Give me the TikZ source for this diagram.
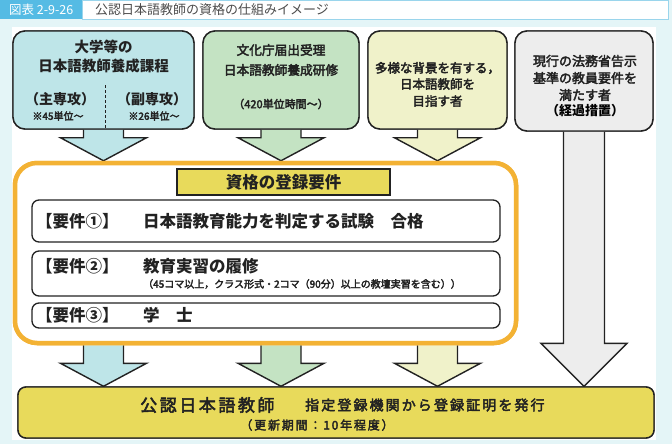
\documentclass[tikz,border=0pt]{standalone}
\usepackage{fontspec}
\setmainfont{Noto Sans CJK JP}
\newfontfamily\medfont[FakeBold=3]{Noto Sans CJK JP}
\newfontfamily\medwide[FakeBold=3,LetterSpace=15]{Noto Sans CJK JP}
\usetikzlibrary{calc}
\definecolor{bgcyan}{HTML}{E4F5F7}
\definecolor{hdrblue}{HTML}{55BBE4}
\definecolor{hdrline}{HTML}{9AD5EC}
\definecolor{cA}{HTML}{BEE5E8}
\definecolor{cB}{HTML}{C4E3C3}
\definecolor{cC}{HTML}{F0F2CA}
\definecolor{cD}{HTML}{EDEDED}
\definecolor{orng}{HTML}{F3B234}
\definecolor{ylw}{HTML}{E8DA5B}
\definecolor{txt}{HTML}{222222}
\newcommand\blockarrowdown[6]{%
  \filldraw[fill=#1, draw=txt, line width=1.4pt, line join=miter]
    let \p1=(#2), \p2=(#3) in
    (\x1-#4pt,\y1) -- (\x1-#4pt,\y2+#6pt) -- (\x1-#5pt,\y2+#6pt) -- (\x1,\y2)
    -- (\x1+#5pt,\y2+#6pt) -- (\x1+#4pt,\y2+#6pt) -- (\x1+#4pt,\y1);}
\tikzset{
  srcbox/.style={draw=txt, line width=1.4pt, rounded corners=12pt, inner sep=0pt},
  reqbox/.style={draw=txt, line width=1.3pt, rounded corners=7pt, fill=white,
    minimum width=468pt, inner sep=0pt},
  lbl/.style={inner sep=0pt, text=txt},
}
\begin{document}
\begin{tikzpicture}[x=1pt,y=-1pt]
\path[use as bounding box] (0,0) rectangle (672,444);
% background
\fill[bgcyan] (0,0) rectangle (672,444);
\fill[white] (12,27) rectangle (656,440);
% header
\node[fill=hdrblue, minimum width=82pt, minimum height=19pt, anchor=north west,
  inner sep=0pt, text=white, font=\fontsize{12.5}{14}\selectfont] (hd) at (0,0) {図表 2-9-26};
\node[draw=hdrline, fill=white, line width=1pt, minimum width=586pt, minimum height=19pt,
  anchor=north west, inner sep=0pt] (hdt) at (82,0) {};
\node[lbl, anchor=west, text=black!70, font=\fontsize{13}{15}\selectfont] (hdtext) at (95,9.5)
  {公認日本語教師の資格の仕組みイメージ};

% source boxes (nodes first so arrows can reference them)
\node[srcbox, fill=cA, minimum width=181pt, minimum height=98pt] (b1) at (103.5,80) {};
\node[srcbox, fill=cB, minimum width=156pt, minimum height=98pt] (b2) at (281,80) {};
\node[srcbox, fill=cC, minimum width=139pt, minimum height=98pt] (b3) at (437.5,80) {};
\node[srcbox, fill=cD, minimum width=138pt, minimum height=100pt] (b4) at (584,81) {};
\node[draw=orng, line width=4.5pt, fill=white, rounded corners=22pt, minimum width=501pt,
  minimum height=180pt, inner sep=0pt] (cont) at (265.5,253) {};
\node[draw=txt, fill=ylw, line width=1.4pt, rounded corners=8pt, minimum width=636pt,
  minimum height=51pt, inner sep=0pt] (fin) at (336,412.5) {};

% arrows
\blockarrowdown{cA}{b1.south}{b1.south |- cont.north}{20}{43}{23}
\blockarrowdown{cB}{b2.south}{b2.south |- cont.north}{20}{43}{23}
\blockarrowdown{cC}{b3.south}{b3.south |- cont.north}{20}{43}{23}
\blockarrowdown{cA}{b1.south |- cont.south}{b1.south |- fin.north}{20}{43}{23}
\blockarrowdown{cB}{b2.south |- cont.south}{b2.south |- fin.north}{20}{43}{23}
\blockarrowdown{cC}{b3.south |- cont.south}{b3.south |- fin.north}{20}{43}{23}
\blockarrowdown{cD}{b4.south}{b4.south |- fin.north}{20.5}{43}{43}

% redraw boxes on top of arrow ends
\node[srcbox, fill=cA, minimum width=181pt, minimum height=98pt] at (b1) {};
\node[srcbox, fill=cB, minimum width=156pt, minimum height=98pt] at (b2) {};
\node[srcbox, fill=cC, minimum width=139pt, minimum height=98pt] at (b3) {};
\node[srcbox, fill=cD, minimum width=138pt, minimum height=100pt] at (b4) {};
\node[draw=orng, line width=4.5pt, fill=white, rounded corners=22pt, minimum width=501pt,
  minimum height=180pt, inner sep=0pt] at (cont) {};
\node[draw=txt, fill=ylw, line width=1.4pt, rounded corners=8pt, minimum width=636pt,
  minimum height=51pt, inner sep=0pt] at (fin) {};

% box 1 texts
\node[lbl, font=\fontsize{14.5}{16}\bfseries] (t1a) at (103.5,47) {大学等の};
\node[lbl, font=\fontsize{14.5}{16}\bfseries] (t1b) at (103.5,66) {日本語教師養成課程};
\draw[txt, line width=1pt, dash pattern=on 3pt off 2pt] (105,85) -- (105,128);
\node[lbl, font=\fontsize{14}{16}\bfseries] (t1c) at (60,99) {（主専攻）};
\node[lbl, font=\fontsize{14}{16}\bfseries] (t1d) at (152,99) {（副専攻）};
\node[lbl, font=\fontsize{10}{12}\medfont] (t1e) at (58,116) {※45単位～};
\node[lbl, font=\fontsize{10}{12}\medfont] (t1f) at (154,116) {※26単位～};
% box 2 texts
\node[lbl, font=\fontsize{12.7}{15}\medfont] (t2a) at (281,50) {文化庁届出受理};
\node[lbl, font=\fontsize{12.7}{15}\medfont] (t2b) at (281,70) {日本語教師養成研修};
\node[lbl, font=\fontsize{11}{13}\medfont] (t2c) at (281,104) {（420単位時間～）};
% box 3 texts
\node[lbl, font=\fontsize{12.5}{15}\medfont] (t3a) at (437.5,68) {多様な背景を有する，};
\node[lbl, font=\fontsize{12.5}{15}\medfont] (t3b) at (437.5,84) {日本語教師を};
\node[lbl, font=\fontsize{12.5}{15}\medfont] (t3c) at (437.5,101) {目指す者};
% box 4 texts
\node[lbl, font=\fontsize{13}{15}\medfont] (t4a) at (585,61) {現行の法務省告示};
\node[lbl, font=\fontsize{13}{15}\medfont] (t4b) at (585,78) {基準の教員要件を};
\node[lbl, font=\fontsize{13}{15}\medfont] (t4c) at (585,95) {満たす者};
\node[lbl, font=\fontsize{13}{15}\bfseries, text=black] (t4d) at (585,111) {（経過措置）};

% requirements
\node[draw=txt, fill=ylw, line width=1.4pt, minimum width=213pt, minimum height=26pt,
  inner sep=0pt, text=txt, font=\fontsize{16.5}{18}\bfseries] (rt) at (283.5,182) {資格の登録要件};
\node[reqbox, minimum height=42pt] (r1) at (266,221) {};
\node[reqbox, minimum height=45pt] (r2) at (266,273.5) {};
\node[reqbox, minimum height=25pt] (r3) at (266,315.5) {};
\node[lbl, anchor=west, font=\fontsize{16.5}{18}\bfseries] (r1a) at (36,221) {【要件①】};
\node[lbl, anchor=west, font=\fontsize{16.5}{18}\bfseries] (r1b) at (143,221) {日本語教育能力を判定する試験　合格};
\node[lbl, anchor=west, font=\fontsize{16.5}{18}\bfseries] (r2a) at (36,266) {【要件②】};
\node[lbl, anchor=west, font=\fontsize{16.5}{18}\bfseries] (r2b) at (143,266) {教育実習の履修};
\node[lbl, anchor=west, font=\fontsize{10}{12}\medfont] (r2c) at (143,284) {（45コマ以上，クラス形式・2コマ（90分）以上の教壇実習を含む））};
\node[lbl, anchor=west, font=\fontsize{16.5}{18}\bfseries] (r3a) at (36,315.5) {【要件③】};
\node[lbl, anchor=west, font=\fontsize{16.5}{18}\bfseries] (r3b) at (143,315.5) {学　士};

% final box texts
\node[lbl, anchor=west, font=\fontsize{17}{19}\medwide] (f1) at (140,405) {公認日本語教師};
\node[lbl, anchor=west, font=\fontsize{14}{17}\medwide] (f2) at (305,405) {指定登録機関から登録証明を発行};
\node[lbl, font=\fontsize{12}{14}\medwide] (f3) at (317,425) {（更新期間：10年程度）};
\end{tikzpicture}
\end{document}
